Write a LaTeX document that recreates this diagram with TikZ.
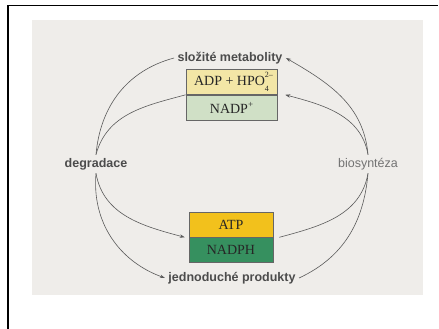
\documentclass[tikz,border=0pt]{standalone}
\usepackage{fontspec}
\setmainfont{Liberation Serif}
\setsansfont{Liberation Sans}
\usepackage{tikz}
\usetikzlibrary{arrows.meta}
\definecolor{paper}{HTML}{EFEDEA}
\definecolor{paleyellow}{HTML}{F3E6A6}
\definecolor{palegreen}{HTML}{D0E0C6}
\definecolor{gold}{HTML}{F2C11C}
\definecolor{darkgreen}{HTML}{36905F}
\definecolor{wire}{HTML}{5A5A5A}
\newcommand{\ionstack}[2]{\rlap{\raisebox{1.25ex}{\fontsize{8}{8}\selectfont #1}}\raisebox{-0.95ex}{\fontsize{8}{8}\selectfont #2}\hspace{0.7em}}
\tikzset{
   flow/.style={draw=wire, line width=0.6pt},
   flowarrow/.style={flow, -{Stealth[length=5pt,width=3.5pt]}},
   word/.style={font=\sffamily\bfseries\fontsize{12.5}{14}\selectfont, text=black!70},
   pool/.style={draw=black!60, line width=0.6pt, minimum width=91pt,
      minimum height=25pt, inner sep=0pt,
      font=\fontsize{14}{16}\selectfont, text=black!85},
   }

\begin{document}
\begin{tikzpicture}[x=1pt,y=1pt]
            \useasboundingbox (0,0) rectangle (439,329);
            \fill[white] (0,0) rectangle (439,329);
            \fill[paper] (32,34) rectangle (423,309);
            \draw[black, line width=1.6pt] (8,0) -- (8,323.3) -- (438,323.3);

            % energy pools
            \node[pool, fill=paleyellow] (adp) at (231.5,247) {ADP + HPO\ionstack{2--}{4}};
            \node[pool, fill=palegreen, anchor=north] (nadp) at (adp.south) {NADP\raisebox{0.9ex}{\fontsize{9}{9}\selectfont +}};
            \node[pool, fill=gold, minimum width=84pt] (atp) at (231,104.5) {ATP};
            \node[pool, fill=darkgreen, minimum width=84pt, anchor=north] (nadph) at (atp.south) {NADPH};

            % labels
            \node[word] (slozite) at (230,271) {složité metabolity};
            \node[word] (jedn) at (232,51) {jednoduché produkty};
            \node[word] (degr) at (96,165) {degradace};
            \node[word, font=\sffamily\fontsize{12.5}{14}\selectfont, text=black!55] (bios) at (368,165) {biosyntéza};

            % degradation side
            \draw[flow] (slozite.west) to[out=195, in=85] (degr.north);
            \draw[flow] (adp.south west) to[out=195, in=75] (degr.north);
            \draw[flowarrow] (degr.south) to[out=-80, in=165] ([xshift=-4pt]atp.south west);
            \draw[flowarrow] (degr.south) to[out=-95, in=160] (jedn.west);

            % biosynthesis side
            \draw[flow] (jedn.east) to[out=25, in=-95] (bios.south);
            \draw[flow] ([xshift=6pt]atp.south east) to[out=15, in=-100] (bios.south);
            \draw[flowarrow] (bios.north) to[out=95, in=-30] (slozite.east);
            \draw[flowarrow] (bios.north) to[out=100, in=-15] ([xshift=8pt]adp.south east);

        \end{tikzpicture}
\end{document}
